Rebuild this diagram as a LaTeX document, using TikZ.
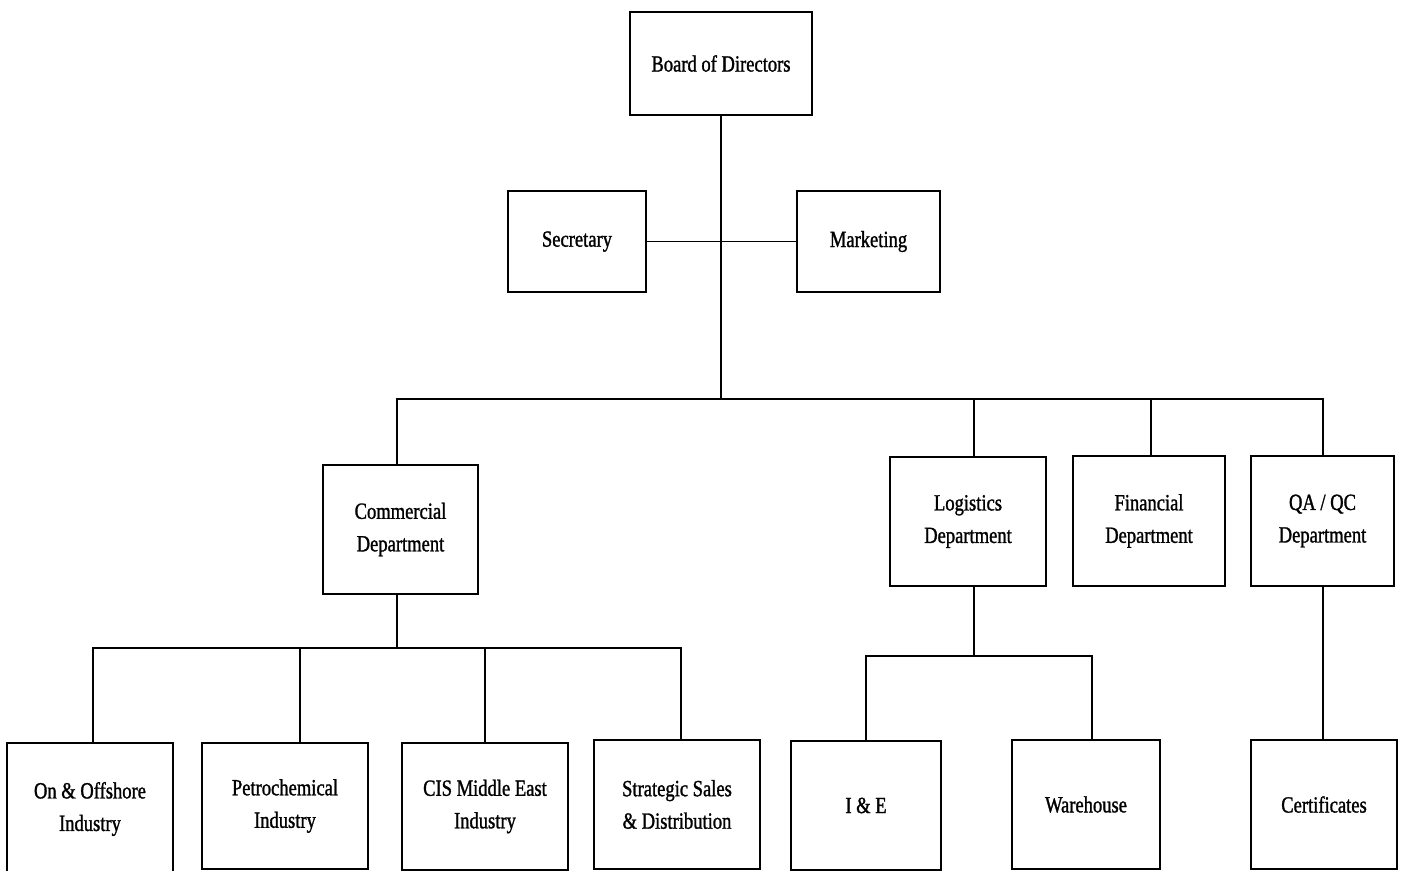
\documentclass[tikz,border=0pt]{standalone}
\usepackage{fontspec}
\setmainfont{Liberation Serif}[FakeStretch=0.8, FakeBold=1.2]
\usetikzlibrary{positioning, calc}

\begin{document}
\begin{tikzpicture}[
    x=0.02cm, y=-0.02cm,
    box/.style={rectangle, draw, line width=0.8pt, align=center, inner sep=0pt,
        font=\fontsize{13.2}{18.5}\selectfont},
    line/.style={line width=0.8pt}
]
\useasboundingbox (0,0) rectangle (1402,871);

% Top level
\node[box, minimum width=3.64cm, minimum height=2.06cm] (board) at (721,63.5) {Board of Directors};
\node[box, minimum width=2.76cm, minimum height=2.02cm] (sec) at (577,241.5) {Secretary};
\node[box, minimum width=2.86cm, minimum height=2.02cm] (mkt) at (868.5,241.5) {Marketing};

% Departments
\node[box, minimum width=3.10cm, minimum height=2.58cm] (comm) at (400.5,529.5) {Commercial\\Department};
\node[box, minimum width=3.12cm, minimum height=2.58cm] (log) at (968,521.5) {Logistics\\Department};
\node[box, minimum width=3.04cm, minimum height=2.60cm] (fin) at (1149,521) {Financial\\Department};
\node[box, minimum width=2.86cm, minimum height=2.60cm] (qa) at (1322.5,521) {QA / QC\\Department};

% Commercial units
\node[box, minimum width=3.32cm, minimum height=2.64cm] (onoff) at (90,809) {On \& Offshore\\Industry};
\node[box, minimum width=3.32cm, minimum height=2.52cm] (petro) at (285,806) {Petrochemical\\Industry};
\node[box, minimum width=3.32cm, minimum height=2.54cm] (cis) at (485,806.5) {CIS Middle East\\Industry};
\node[box, minimum width=3.32cm, minimum height=2.58cm] (strat) at (677,804.5) {Strategic Sales\\\& Distribution};

% Logistics and QA units
\node[box, minimum width=3.00cm, minimum height=2.58cm] (ie) at (866,805.5) {I \& E};
\node[box, minimum width=2.96cm, minimum height=2.58cm] (wh) at (1086,804.5) {Warehouse};
\node[box, minimum width=2.92cm, minimum height=2.58cm] (cert) at (1324,804.5) {Certificates};

% Bus points
\coordinate (tb) at (721,399);
\coordinate (cb) at (397,648);
\coordinate (lb) at (974,656);

% Lines - top
\draw[line] (board) -- (tb);
\draw[line] (sec.east) -- (mkt.west);
\draw[line] (comm.north) ++(-3.5,0) |- (tb);
\draw[line] (log.north) ++(6,0) |- (tb);
\draw[line] (fin.north) ++(2,0) |- (tb);
\draw[line] (qa.north) ++(0.5,0) |- (tb);

% Lines - commercial
\draw[line] (comm.south) ++(-3.5,0) -- (cb);
\draw[line] (onoff.north) ++(3,0) |- (cb);
\draw[line] (petro.north) ++(15,0) |- (cb);
\draw[line] (cis.north) |- (cb);
\draw[line] (strat.north) ++(4,0) |- (cb);

% Lines - logistics and QA
\draw[line] (log.south) ++(6,0) -- (lb);
\draw[line] (ie.north) |- (lb);
\draw[line] (wh.north) ++(6,0) |- (lb);
\draw[line] (qa.south) ++(0.5,0) |- (cert.north);

\end{tikzpicture}
\end{document}
